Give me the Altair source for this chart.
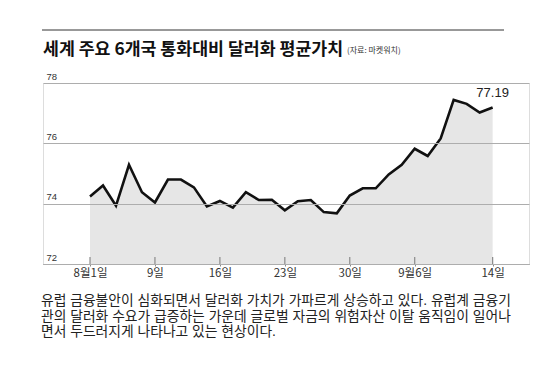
import altair as alt
import pandas as pd

# ---- data ----
values = [74.24, 74.60, 73.93, 75.29, 74.38, 74.04, 74.80, 74.80, 74.54, 73.91,
          74.09, 73.87, 74.38, 74.12, 74.13, 73.78, 74.08, 74.12, 73.72, 73.68,
          74.27, 74.51, 74.51, 74.97, 75.29, 75.82, 75.58, 76.16, 77.44, 77.31,
          77.02, 77.19]
tick_idx = [0, 5, 10, 15, 20, 25, 31]
tick_labels = ["8월1일", "9일", "16일", "23일", "30일", "9월6일", "14일"]
y_ticks = [72, 74, 76, 78]
last_label = "77.19"

title = "세계 주요 6개국 통화대비 달러화 평균가치"
source = "(자료: 마켓워치)"
paragraph = [
    "유럽 금융불안이 심화되면서 달러화 가치가 가파르게 상승하고 있다. 유럽계 금융기",
    "관의 달러화 수요가 급증하는 가운데 글로벌 자금의 위험자산 이탈 움직임이 일어나",
    "면서 두드러지게 나타나고 있는 현상이다.",
]

df = pd.DataFrame({"i": list(range(len(values))), "v": values})
ticks_df = pd.DataFrame({"i": tick_idx, "y0": [72.0] * len(tick_idx), "y1": [72.23] * len(tick_idx)})
last_df = pd.DataFrame({"i": [len(values) - 1], "v": [values[-1]], "t": [last_label]})

label_map = "{" + ",".join(f"'{k}':'{l}'" for k, l in zip(tick_idx, tick_labels)) + "}"

W, H = 486, 181
KFONT = "Noto Sans CJK KR"

xscale = alt.Scale(domain=[-3.62, 33.8], nice=False, zero=False)
yscale = alt.Scale(domain=[72, 78], nice=False, zero=False)

xaxis = alt.Axis(
    values=tick_idx,
    labelExpr=f"{label_map}[datum.value]",
    title=None, grid=False,
    domainColor="#8a8a8a", domainWidth=1.2,
    tickColor="#8a8a8a", tickSize=2,
    labelFont=KFONT, labelFontSize=11.5, labelColor="#333333", labelPadding=1,
    labelFlush=False,
)
yaxis = alt.Axis(
    values=y_ticks, title=None, domain=False, ticks=False,
    grid=True, gridColor="#adadad", gridWidth=1.2,
    labelAlign="left", labelBaseline="bottom", labelPadding=-3, labelOffset=-2,
    labelFont="Liberation Sans", labelFontSize=9.5, labelColor="#333333",
    zindex=1,
)

base = alt.Chart(df)

area = base.mark_area(color="#e6e6e6", opacity=1).encode(
    x=alt.X("i:Q", scale=xscale, axis=xaxis),
    y=alt.Y("v:Q", scale=yscale, axis=yaxis),
    y2=alt.datum(72),
)
line = base.mark_line(color="#111111", strokeWidth=2.6, strokeJoin="miter").encode(
    x=alt.X("i:Q", scale=xscale),
    y=alt.Y("v:Q", scale=yscale),
)
tick_rules = alt.Chart(ticks_df).mark_rule(color="#8a8a8a", strokeWidth=1.2).encode(
    x=alt.X("i:Q", scale=xscale),
    y=alt.Y("y0:Q", scale=yscale),
    y2="y1:Q",
)
last_text = alt.Chart(last_df).mark_text(
    font="Liberation Sans", fontSize=13, color="#222222", dy=-14, align="center"
).encode(
    x=alt.X("i:Q", scale=xscale),
    y=alt.Y("v:Q", scale=yscale),
    text="t:N",
)

# header / footer annotations (layout only)
top_rule = alt.Chart(pd.DataFrame({"a": [0]})).mark_rule(color="#333333", strokeWidth=1).encode(
    x=alt.value(-1), x2=alt.value(461), y=alt.value(-53)
)
title_txt = alt.Chart(pd.DataFrame({"t": [title]})).mark_text(
    font=KFONT, fontSize=17.3, fontWeight="bold", color="#111111", align="left", baseline="middle"
).encode(x=alt.value(0), y=alt.value(-33), text="t:N")
source_txt = alt.Chart(pd.DataFrame({"t": [source]})).mark_text(
    font=KFONT, fontSize=8, color="#333333", align="left", baseline="middle"
).encode(x=alt.value(304), y=alt.value(-32), text="t:N")

para_txt = alt.Chart(pd.DataFrame({"t": ["\n".join(paragraph)]})).mark_text(
    font="Liberation Sans, Noto Sans CJK KR", fontSize=13.8, color="#222222",
    align="left", baseline="alphabetic", lineBreak="\n", lineHeight=15.6,
).encode(x=alt.value(-2), y=alt.value(222), text="t:N")

chart = alt.layer(
    area, line, tick_rules, last_text, top_rule, title_txt, source_txt, para_txt
).properties(
    width=W, height=H,
    autosize=alt.AutoSizeParams(type="none"),
    padding={"left": 35, "top": 75, "right": 13, "bottom": 96},
).configure_view(stroke=None).configure(background="white")

chart.save("out.html", embed_options={"renderer": "svg", "actions": False})
